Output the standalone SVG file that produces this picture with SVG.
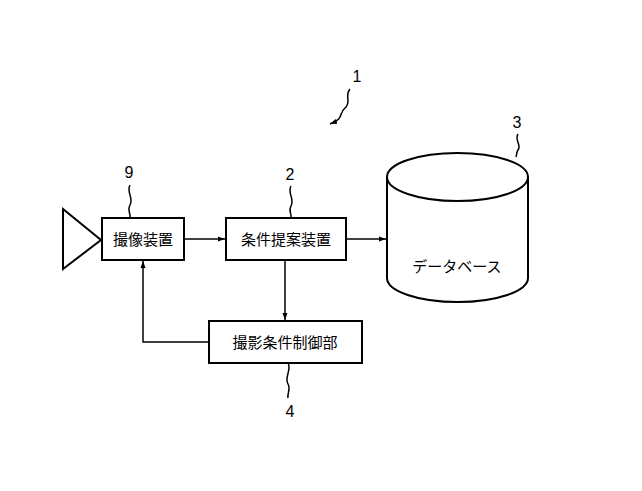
<svg xmlns="http://www.w3.org/2000/svg" width="642" height="491" viewBox="0 0 642 491">
<style>
.b{fill:#fff;stroke:#000;stroke-width:2}
.l{fill:none;stroke:#000;stroke-width:1.5}
.t{font-family:"Noto Sans CJK JP","Noto Sans",sans-serif;font-size:15px;text-anchor:middle;fill:#000}
.n{font-family:"Liberation Sans",sans-serif;font-size:16px;text-anchor:middle;fill:#000}
</style>
<defs><marker id="a" markerWidth="8" markerHeight="8" refX="7" refY="4" orient="auto" markerUnits="userSpaceOnUse"><path d="M0,1.5 L7,4 L0,6.5z" fill="#000"/></marker></defs>
<rect width="642" height="491" fill="#fff"/>
<g id="ref1"><text class="n" x="357" y="82">1</text><path class="l" d="M350,89 C344,96 352,102 345,108 C338,114 345,118 330,124" marker-end="url(#a)"/></g>
<g id="triangle"><path class="b" d="M63,209 L101,240 L63,269z"/></g>
<g id="n9"><rect class="b" x="102" y="218" width="82" height="42"/><text class="t" x="143" y="245">撮像装置</text><text class="n" x="129" y="178">9</text><path class="l" d="M130,185 C126,192 134,198 130,205 C127,210 131,214 130,218"/></g>
<g id="n2"><rect class="b" x="226" y="218" width="120" height="42"/><text class="t" x="286" y="245">条件提案装置</text><text class="n" x="290" y="180">2</text><path class="l" d="M291,186 C287,193 295,199 291,206 C288,211 292,214 291,218"/></g>
<g id="n4"><rect class="b" x="209" y="321" width="153" height="42"/><text class="t" x="285" y="348">撮影条件制御部</text><text class="n" x="290" y="417">4</text><path class="l" d="M288,363 C292,370 284,377 288,384 C291,389 287,393 288,398"/></g>
<g id="n3"><path class="b" d="M387,177 L387,278 A70.5,24 0 0 0 528,278 L528,177"/><ellipse class="b" cx="457.5" cy="177" rx="70.5" ry="24"/><text class="t" x="457" y="272">データベース</text><text class="n" x="517" y="128">3</text><path class="l" d="M518,134 C514,140 522,145 518,150 C516,153 517,155 516,157"/></g>
<g id="connectors">
<path class="l" d="M184,239 L225,239" marker-end="url(#a)"/>
<path class="l" d="M346,239 L386,239" marker-end="url(#a)"/>
<path class="l" d="M285,260 L285,320" marker-end="url(#a)"/>
<path class="l" d="M209,342 L143,342 L143,261" marker-end="url(#a)"/>
</g>
</svg>
